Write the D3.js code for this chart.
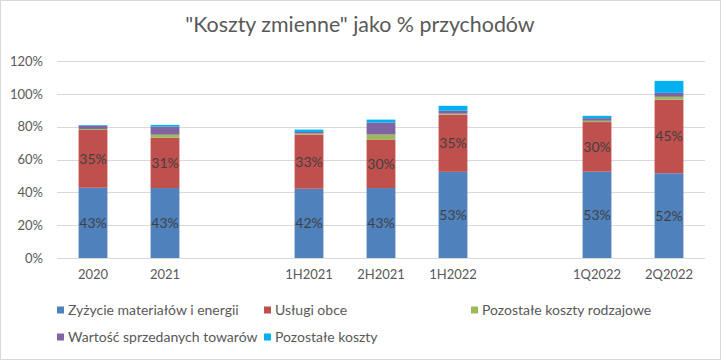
<!DOCTYPE html>
<html><head><meta charset="utf-8">
<script src="https://cdn.jsdelivr.net/npm/d3@7"></script>
<style>body{margin:0;background:#fff}svg{display:block}</style>
</head><body><svg id="c" width="721" height="360"></svg>
<script>
const categories = ["2020","2021","","1H2021","2H2021","1H2022","","1Q2022","2Q2022"];
const seriesNames = ["Zyżycie materiałów i energii","Usługi obce","Pozostałe koszty rodzajowe","Wartość sprzedanych towarów","Pozostałe koszty"];
const materialy = [42.8, 42.6, null, 42.2, 42.6, 52.5, null, 52.6, 51.6];
const uslugi    = [35.2, 30.7, null, 33.0, 29.6, 34.8, null, 30.2, 44.8];
const rodzajowe = [0.6, 1.8, null, 0.6, 3.0, 0.6, null, 0.8, 1.8];
const towary    = [2.0, 5.0, null, 1.0, 7.3, 1.8, null, 1.6, 2.4];
const pozostale = [0.4, 1.0, null, 1.4, 1.8, 3.0, null, 1.4, 7.3];
const yTicks = [0, 20, 40, 60, 80, 100, 120];
const colors = ["#4f81bd","#c0504d","#9bbb59","#8064a2","#00b0f0"];
const labelled = [0, 1];

const font = "Lato, 'Open Sans', sans-serif";
const svg = d3.select("#c");
svg.append("rect").attr("x",0.5).attr("y",0.5).attr("width",720).attr("height",359)
  .attr("fill","#fff").attr("stroke","#d9d9d9");

const x = d3.scaleBand().domain(d3.range(categories.length)).range([57,705]).paddingInner(0.6).paddingOuter(0.3);
const y = d3.scaleLinear().domain([0,120]).range([258,61]);

svg.append("text").attr("x",360).attr("y",32).attr("text-anchor","middle")
  .attr("font-family",font).attr("font-size",21.4).attr("fill","#595959")
  .text("\"Koszty zmienne\" jako % przychodów");

// grid
svg.append("g").selectAll("line").data(yTicks).join("line")
  .attr("x1",57).attr("x2",705).attr("y1",d=>Math.round(y(d))+0.5).attr("y2",d=>Math.round(y(d))+0.5)
  .attr("stroke","#d9d9d9").attr("stroke-width",1);

// y axis labels
const yAxis = d3.axisLeft(y).tickValues(yTicks).tickFormat(d=>d+"%").tickSize(0).tickPadding(0);
const ya = svg.append("g").attr("transform","translate(43,0)").call(yAxis);
ya.select(".domain").remove();
ya.selectAll("text").attr("font-family",font).attr("font-size",13).attr("fill","#595959");

// x axis labels
const xAxis = d3.axisBottom(x).tickFormat(i=>categories[i]).tickSize(0).tickPadding(0);
const xa = svg.append("g").attr("transform","translate(0,270)").call(xAxis);
xa.select(".domain").remove();
xa.selectAll("text").attr("font-family",font).attr("font-size",13).attr("fill","#595959");

const data = categories.map((c,i)=>({i, v:[materialy[i],uslugi[i],rodzajowe[i],towary[i],pozostale[i]]})).filter(d=>d.v[0]!=null);
const stack = d3.stack().keys([0,1,2,3,4]).value((d,k)=>d.v[k]);
const layers = stack(data);

svg.append("g").selectAll("g").data(layers).join("g").attr("fill",(d,k)=>colors[k])
  .selectAll("rect").data(d=>d).join("rect")
  .attr("x",d=>x(d.data.i)).attr("width",x.bandwidth())
  .attr("y",d=>y(d[1])).attr("height",d=>y(d[0])-y(d[1]));

// data labels
labelled.forEach(k=>{
  svg.append("g").selectAll("text").data(layers[k]).join("text")
    .attr("x",d=>x(d.data.i)+x.bandwidth()/2).attr("y",d=>(y(d[0])+y(d[1]))/2)
    .attr("dy","0.35em").attr("text-anchor","middle")
    .attr("font-family",font).attr("font-size",14).attr("fill","#404040")
    .text(d=>Math.round(d.data.v[k])+"%");
});

// baseline
svg.append("line").attr("x1",57).attr("x2",705).attr("y1",258.5).attr("y2",258.5).attr("stroke","#d9d9d9");

// legend
const legendPos = [[57,310],[264,310],[471,310],[57,337],[264,337]];
const lg = svg.append("g").selectAll("g").data(seriesNames).join("g")
  .attr("transform",(d,k)=>`translate(${legendPos[k][0]},${legendPos[k][1]})`);
lg.append("rect").attr("x",0).attr("y",-3.5).attr("width",7).attr("height",7).attr("fill",(d,k)=>colors[k]);
lg.append("text").attr("x",11).attr("dy","0.35em").attr("font-family",font).attr("font-size",14).attr("fill","#595959").text(d=>d);
</script></body></html>
